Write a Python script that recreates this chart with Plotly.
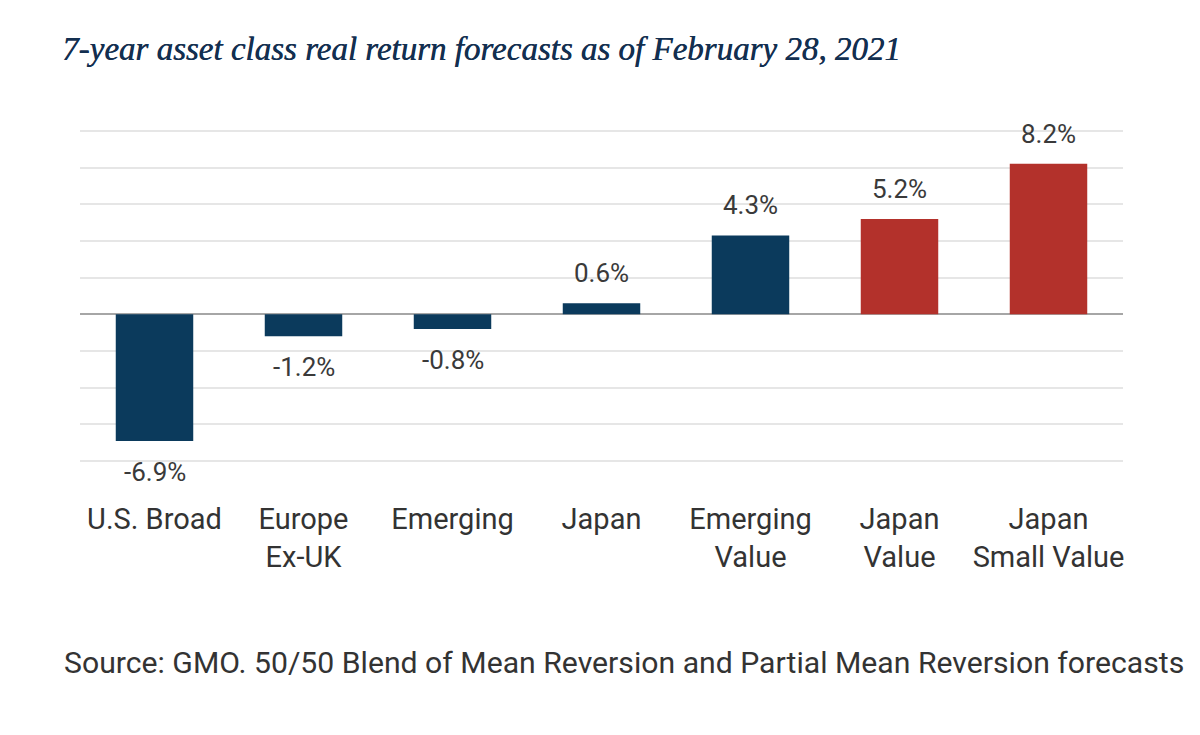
import plotly.graph_objects as go

# dati
kategorijas = ["U.S. Broad", "Europe<br>Ex-UK", "Emerging", "Japan",
               "Emerging<br>Value", "Japan<br>Value", "Japan<br>Small Value"]
vertibas = [-6.9, -1.2, -0.8, 0.6, 4.3, 5.2, 8.2]
etiketes = ["-6.9%", "-1.2%", "-0.8%", "0.6%", "4.3%", "5.2%", "8.2%"]
krasas = ["#0b3a5c", "#0b3a5c", "#0b3a5c", "#0b3a5c", "#0b3a5c", "#b3312b", "#b3312b"]

# lapai ir 8px body atkape, tapec visu skaita ekrana koordinatas un atnem OFF
OFF = 8
W, H = 1200 - OFF, 735 - OFF
ymin, ymax = -8.1, 10.1
k = 330 / 18  # px uz 1%
top_s = 131 - (ymax - 10) * k
bot_s = 461 + (-8 - ymin) * k
L = 80 - OFF
R = W - (1123 - OFF)
T = top_s - OFF
B = H - (bot_s - OFF)
pw = W - L - R
ph = H - T - B

sans = "Roboto, Arial, sans-serif"

fig = go.Figure(go.Bar(
    x=kategorijas, y=vertibas,
    marker=dict(color=krasas, line_width=0),
    width=0.52,
    hoverinfo="skip",
))

# vertibu etiketes virs / zem stabiem
for kat, v, e in zip(kategorijas, vertibas, etiketes):
    fig.add_annotation(
        x=kat, y=v, text=e, showarrow=False,
        yanchor="bottom" if v > 0 else "top",
        yshift=13 if v > 0 else -14,
        font=dict(family=sans, size=26, color="#3a3a3a"),
    )

fig.add_annotation(
    xref="paper", yref="paper",
    x=(62 - OFF - L) / pw, y=(T + ph - (662 - OFF)) / ph,
    xanchor="left", yanchor="middle",
    text="Source: GMO. 50/50 Blend of Mean Reversion and Partial Mean Reversion forecasts",
    showarrow=False,
    font=dict(family=sans, size=30.2, color="#333333"),
)

fig.update_layout(
    width=W, height=H,
    margin=dict(l=L, r=R, t=T, b=B),
    paper_bgcolor="white", plot_bgcolor="white",
    showlegend=False,
    title=dict(
        text="<i>7-year asset class real return forecasts as of February 28, 2021</i>",
        xref="container", yref="container",
        x=(62 - OFF) / W, y=1 - (48 - OFF) / H, xanchor="left", yanchor="middle",
        font=dict(family="Liberation Serif, DejaVu Serif, serif", size=33, color="#132f50",
                  shadow="0.5px 0px 0px #132f50"),
    ),
    xaxis=dict(
        showgrid=False, showline=False, ticks="",
        ticklabelstandoff=36,
        tickfont=dict(family=sans, size=29, color="#333333"),
    ),
    yaxis=dict(
        range=[ymin, ymax], dtick=2, tick0=0,
        showgrid=True, gridcolor="#e6e6e6", gridwidth=1.5,
        zeroline=True, zerolinecolor="#a6a6a6", zerolinewidth=2,
        showticklabels=False, showline=False, ticks="",
    ),
)

fig.write_html("out.html")
